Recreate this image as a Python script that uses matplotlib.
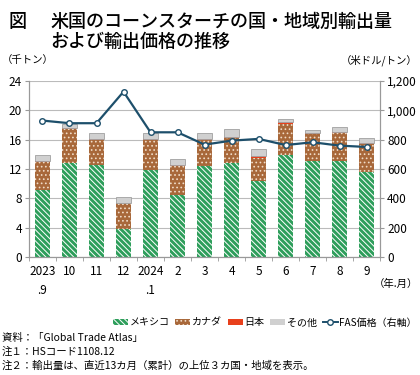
import matplotlib
matplotlib.use("Agg")
import matplotlib.pyplot as plt
import numpy as np
from matplotlib.patches import Patch
from matplotlib.lines import Line2D

plt.rcParams['font.family'] = ['Noto Sans CJK JP', 'DejaVu Sans']
plt.rcParams['hatch.linewidth'] = 0.7

# data
months = ["2023\n.9", "10", "11", "12", "2024\n.1", "2", "3", "4", "5", "6", "7", "8", "9"]
mexico = [9.1, 12.8, 12.6, 3.85, 11.8, 8.4, 12.4, 12.75, 10.3, 13.9, 13.05, 13.1, 11.6]
canada = [3.8, 4.7, 3.35, 3.45, 4.15, 4.05, 3.55, 3.45, 3.2, 4.3, 3.65, 3.75, 3.85]
japan = [0.15, 0.15, 0.15, 0.0, 0.15, 0.15, 0.15, 0.2, 0.3, 0.2, 0.15, 0.15, 0.15]
other = [0.85, 0.5, 0.8, 0.85, 0.75, 0.7, 0.85, 1.0, 0.9, 0.4, 0.45, 0.7, 0.6]
fas_price = [930, 912, 912, 1127, 850, 850, 766, 793, 805, 763, 782, 759, 750]

x = np.arange(len(months))
w = 0.56

fig = plt.figure(figsize=(4.2, 3.75), dpi=100)
ax = fig.add_axes([0.069, 0.315, 0.836, 0.469])

green = '#2e9e5b'
brown = '#a8683a'
red = '#e8401c'
grey = '#d0d0d0'
line_c = '#1d4f6b'
h_mex = '\\\\\\\\\\\\'
h_can = '....'

b1 = np.array(mexico)
b2 = b1 + np.array(canada)
b3 = b2 + np.array(japan)

ax.bar(x, mexico, w, color=green, edgecolor='white', linewidth=0, hatch=h_mex, zorder=2)
ax.bar(x, canada, w, bottom=b1, color=brown, edgecolor='#f0dcc8', linewidth=0, hatch=h_can, zorder=2)
ax.bar(x, japan, w, bottom=b2, color=red, linewidth=0, zorder=2)
ax.bar(x, other, w, bottom=b3, color=grey, edgecolor='#a0a0a0', linewidth=0.6, zorder=2)

ax.set_ylim(0, 24)
ax.set_yticks(range(0, 25, 4))
ax.set_xlim(-0.5, len(months) - 0.5)
ax.set_xticks(x)
ax.set_xticklabels(months, fontsize=8.5, linespacing=1.6, va='top')
ax.set_xticks(np.arange(-0.5, len(months), 1), minor=True)
ax.tick_params(axis='x', which='major', length=0, pad=6)
ax.tick_params(axis='x', which='minor', length=3, color='#999999')
ax.tick_params(axis='y', labelsize=8.5, length=3, color='#999999', pad=2)
ax.yaxis.grid(True, color='#bbbbbb', linewidth=0.8, zorder=0)
ax.set_axisbelow(True)
ax.spines['top'].set_visible(False)
for s in ['left', 'right', 'bottom']:
    ax.spines[s].set_color('#999999')

ax2 = ax.twinx()
ax2.plot(x, fas_price, color=line_c, linewidth=1.6, marker='o', markersize=4,
         markerfacecolor='white', markeredgecolor=line_c, markeredgewidth=1, zorder=5)
ax2.set_ylim(0, 1200)
ax2.set_yticks(range(0, 1201, 200))
ax2.set_yticklabels([f"{v:,}" for v in range(0, 1201, 200)])
ax2.tick_params(axis='y', labelsize=8.5, length=3, color='#999999', pad=2)
ax2.spines['top'].set_visible(False)
for s in ['left', 'right', 'bottom']:
    ax2.spines[s].set_color('#999999')

fig.text(0.02, 0.965, "図", fontsize=13, va='top', fontweight='medium')
fig.text(0.12, 0.965, "米国のコーンスターチの国・地域別輸出量\nおよび輸出価格の推移", fontsize=13,
         va='top', linespacing=1.15, fontweight='medium')
fig.text(0.005, 0.84, "（千トン）", fontsize=7.5, va='center')
fig.text(0.995, 0.84, "（米ドル/トン）", fontsize=7.5, va='center', ha='right')
fig.text(0.995, 0.243, "（年.月）", fontsize=7.5, va='center', ha='right')

handles = [
    Patch(facecolor=green, edgecolor='white', linewidth=0, hatch=h_mex),
    Patch(facecolor=brown, edgecolor='#f0dcc8', linewidth=0, hatch=h_can),
    Patch(facecolor=red),
    Patch(facecolor=grey),
    Line2D([0], [0], color=line_c, linewidth=1.4, marker='o', markersize=4,
           markerfacecolor='white', markeredgecolor=line_c),
]
labels = ["メキシコ", "カナダ", "日本", "その他", "FAS価格（右軸）"]
fig.legend(handles, labels, loc='center right', bbox_to_anchor=(1.0, 0.14), ncol=5, frameon=False,
           fontsize=7.2, handlelength=1.5, handleheight=0.6, handletextpad=0.15, columnspacing=0.6,
           borderaxespad=0.1, borderpad=0.2)

notes = ["資料：「Global Trade Atlas」", "注１：HSコード1108.12",
         "注２：輸出量は、直近13カ月（累計）の上位３カ国・地域を表示。"]
for i, t in enumerate(notes):
    fig.text(0.005, 0.1 - i * 0.038, t, fontsize=7.5, va='center')

fig.savefig("out.png", dpi=100)
